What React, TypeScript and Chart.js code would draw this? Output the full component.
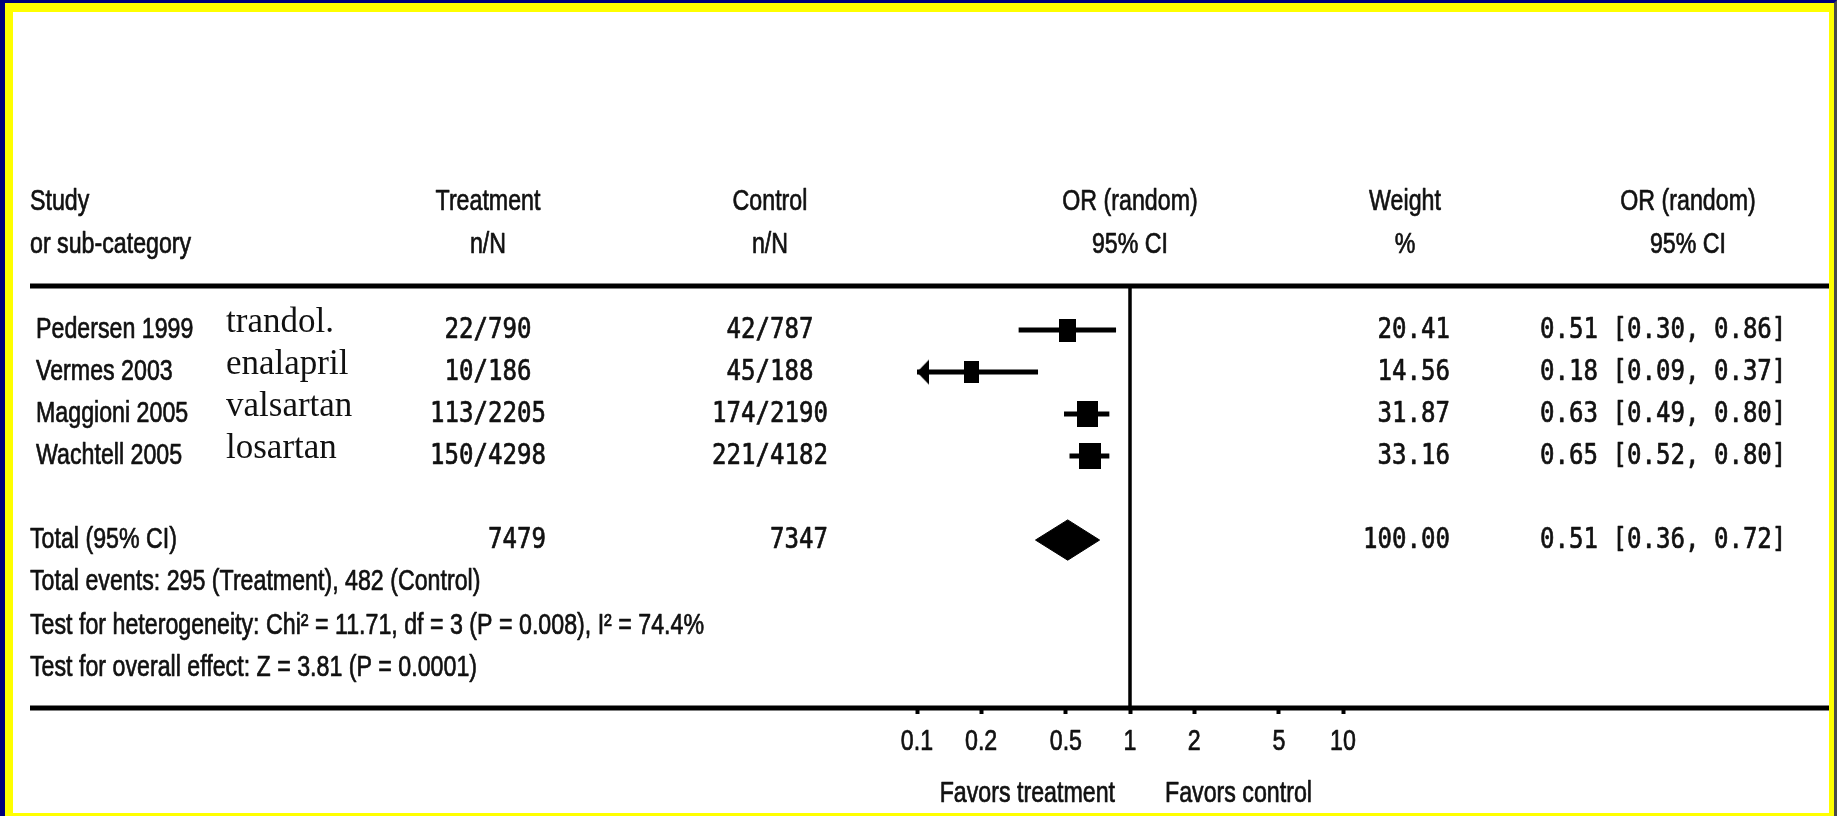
import { useEffect, useRef } from 'react';
import { Chart, registerables } from 'chart.js';

Chart.register(...registerables);

// ---- data ----
const STUDIES = ['Pedersen 1999', 'Vermes 2003', 'Maggioni 2005', 'Wachtell 2005'];
const DRUGS = ['trandol.', 'enalapril', 'valsartan', 'losartan'];
const TREAT_EVENTS = [22, 10, 113, 150];
const TREAT_TOTAL = [790, 186, 2205, 4298];
const CTRL_EVENTS = [42, 45, 174, 221];
const CTRL_TOTAL = [787, 188, 2190, 4182];
const WEIGHTS = [20.41, 14.56, 31.87, 33.16];
const OR_EST = [0.51, 0.18, 0.63, 0.65];
const CI_LOW = [0.3, 0.09, 0.49, 0.52];
const CI_HIGH = [0.86, 0.37, 0.8, 0.8];

const TOTAL_LABEL = 'Total (95% CI)';
const TOTAL_WEIGHT = 100.0;
const TOTAL_OR = 0.51;
const TOTAL_LOW = 0.36;
const TOTAL_HIGH = 0.72;

const HEADER_LINE1 = ['Study', 'Treatment', 'Control', 'OR (random)', 'Weight', 'OR (random)'];
const HEADER_LINE2 = ['or sub-category', 'n/N', 'n/N', '95% CI', '%', '95% CI'];
const FOOTNOTES = [
  'Total events: 295 (Treatment), 482 (Control)',
  'Test for heterogeneity: Chi\u00B2 = 11.71, df = 3 (P = 0.008), I\u00B2 = 74.4%',
  'Test for overall effect: Z = 3.81 (P = 0.0001)',
];
const X_TICKS = [0.1, 0.2, 0.5, 1, 2, 5, 10];
const FAVORS = ['Favors treatment', 'Favors control'];

// ---- layout ----
const CANVAS_W = 1816;
const CANVAS_H = 801;
const PLOT_MIN = 0.1;
const PLOT_MAX = 10;
const Y_MIN = -1.05;
const Y_MAX = 9;
const TOTAL_ROW = 5;
const HEADER_ROWS = [-3.05, -2.02];
const FOOTNOTE_ROWS = [6, 7.05, 8.05];
const DIAMOND_HALF = 0.48;

const COL = {
  study: 17,
  studyName: 23,
  drug: 213,
  treat: 475,
  ctrl: 757,
  weightHead: 1392,
  weightRight: 1437,
  orHead: 1675,
  orLeft: 1527,
};

const SANS = '29px "Liberation Sans", Arial, sans-serif';
const SANS_SX = 0.8;
const MONO = '29px "DejaVu Sans Mono", "Liberation Mono", monospace';
const MONO_SX = 0.83;
const SERIF = '35px "Liberation Serif", "Times New Roman", serif';
const INK = '#111';

type Align = 'left' | 'center' | 'right';

function textWidth(ctx: CanvasRenderingContext2D, text: string, font: string, sx: number) {
  ctx.save();
  ctx.font = font;
  const w = ctx.measureText(text).width * sx;
  ctx.restore();
  return w;
}

function drawText(
  ctx: CanvasRenderingContext2D,
  text: string,
  x: number,
  y: number,
  font: string,
  align: Align,
  sx: number,
  baseline: CanvasTextBaseline = 'middle',
  weight = 0.7
) {
  ctx.save();
  ctx.font = font;
  ctx.fillStyle = INK;
  ctx.strokeStyle = INK;
  ctx.lineWidth = weight;
  ctx.lineJoin = 'round';
  ctx.textBaseline = baseline;
  ctx.textAlign = 'left';
  const w = ctx.measureText(text).width * sx;
  const left = align === 'left' ? x : align === 'right' ? x - w : x - w / 2;
  ctx.translate(left, y);
  ctx.scale(sx, 1);
  ctx.fillText(text, 0, 0);
  if (weight > 0) ctx.strokeText(text, 0, 0);
  ctx.restore();
}

function boxImage(weight: number): HTMLCanvasElement {
  const s = 3.3 * Math.sqrt(weight) + 2.5;
  const w = Math.round(s);
  const h = Math.round(0.6 * s + 13);
  const c = document.createElement('canvas');
  c.width = w;
  c.height = h;
  const g = c.getContext('2d')!;
  g.fillStyle = '#000';
  g.fillRect(0, 0, w, h);
  return c;
}

// left-pointing arrowhead whose tip sits at the image centre
function arrowImage(): HTMLCanvasElement {
  const c = document.createElement('canvas');
  c.width = 26;
  c.height = 27;
  const g = c.getContext('2d')!;
  g.fillStyle = '#000';
  g.beginPath();
  g.moveTo(13, 13.5);
  g.lineTo(25, 1);
  g.lineTo(25, 26);
  g.closePath();
  g.fill();
  return c;
}

const fmt2 = (v: number) => v.toFixed(2);
const sum = (a: number[]) => a.reduce((p, c) => p + c, 0);

const tablePlugin = {
  id: 'forestTable',
  afterDraw(chart: any) {
    const { ctx, chartArea } = chart;
    const x = chart.scales.x;
    const y = chart.scales.y;
    const rowY = (r: number) => y.getPixelForValue(r);
    const x1 = x.getPixelForValue(1);

    // horizontal rules
    ctx.save();
    ctx.fillStyle = '#000';
    ctx.fillRect(COL.study, chartArea.top - 2.5, CANVAS_W - COL.study, 5);
    ctx.fillRect(COL.study, chartArea.bottom - 2.5, CANVAS_W - COL.study, 5);
    ctx.restore();

    // header
    const headX: [number, Align][] = [
      [COL.study, 'left'],
      [COL.treat, 'center'],
      [COL.ctrl, 'center'],
      [x1, 'center'],
      [COL.weightHead, 'center'],
      [COL.orHead, 'center'],
    ];
    [HEADER_LINE1, HEADER_LINE2].forEach((line, li) => {
      line.forEach((t, i) => {
        drawText(ctx, t, headX[i][0], rowY(HEADER_ROWS[li]), SANS, headX[i][1], SANS_SX);
      });
    });

    // study rows
    const treatCells = STUDIES.map((_, i) => `${TREAT_EVENTS[i]}/${TREAT_TOTAL[i]}`);
    const ctrlCells = STUDIES.map((_, i) => `${CTRL_EVENTS[i]}/${CTRL_TOTAL[i]}`);
    STUDIES.forEach((s, i) => {
      const ry = rowY(i);
      drawText(ctx, s, COL.studyName, ry, SANS, 'left', SANS_SX);
      drawText(ctx, DRUGS[i], COL.drug, ry + 2, SERIF, 'left', 1, 'alphabetic', 0);
      drawText(ctx, treatCells[i], COL.treat, ry, MONO, 'center', MONO_SX);
      drawText(ctx, ctrlCells[i], COL.ctrl, ry, MONO, 'center', MONO_SX);
      drawText(ctx, fmt2(WEIGHTS[i]), COL.weightRight, ry, MONO, 'right', MONO_SX);
      drawText(
        ctx,
        `${fmt2(OR_EST[i])} [${fmt2(CI_LOW[i])}, ${fmt2(CI_HIGH[i])}]`,
        COL.orLeft,
        ry,
        MONO,
        'left',
        MONO_SX
      );
    });

    // total row: participant totals sit flush with the right edge of the widest cell
    const colRight = (cells: string[], centre: number) =>
      centre + Math.max(...cells.map((c) => textWidth(ctx, c, MONO, MONO_SX))) / 2;
    const ty = rowY(TOTAL_ROW);
    drawText(ctx, TOTAL_LABEL, COL.study, ty, SANS, 'left', SANS_SX);
    drawText(ctx, String(sum(TREAT_TOTAL)), colRight(treatCells, COL.treat), ty, MONO, 'right', MONO_SX);
    drawText(ctx, String(sum(CTRL_TOTAL)), colRight(ctrlCells, COL.ctrl), ty, MONO, 'right', MONO_SX);
    drawText(ctx, fmt2(TOTAL_WEIGHT), COL.weightRight, ty, MONO, 'right', MONO_SX);
    drawText(
      ctx,
      `${fmt2(TOTAL_OR)} [${fmt2(TOTAL_LOW)}, ${fmt2(TOTAL_HIGH)}]`,
      COL.orLeft,
      ty,
      MONO,
      'left',
      MONO_SX
    );

    // footnotes
    FOOTNOTES.forEach((t, i) => {
      drawText(ctx, t, COL.study, rowY(FOOTNOTE_ROWS[i]), SANS, 'left', SANS_SX);
    });

    // axis tick labels
    x.ticks.forEach((tk: any) => {
      drawText(ctx, String(tk.value), x.getPixelForValue(tk.value), chartArea.bottom + 34, SANS, 'center', SANS_SX);
    });

    // direction labels
    drawText(ctx, FAVORS[0], x1 - 15, chartArea.bottom + 86, SANS, 'right', SANS_SX);
    drawText(ctx, FAVORS[1], x1 + 35, chartArea.bottom + 86, SANS, 'left', SANS_SX);
  },
};

export default function App() {
  const ref = useRef<HTMLCanvasElement | null>(null);

  useEffect(() => {
    document.body.style.margin = '0';
    const canvas = ref.current;
    if (!canvas) return;

    const arrow = arrowImage();

    const nullLine = {
      data: [
        { x: 1, y: Y_MIN },
        { x: 1, y: Y_MAX },
      ],
      showLine: true,
      borderColor: '#000',
      borderWidth: 3.5,
      pointRadius: 0,
      clip: false,
    };

    const ciLines = STUDIES.map((_, i) => {
      const clippedLow = CI_LOW[i] < PLOT_MIN;
      return {
        data: [
          { x: Math.max(CI_LOW[i], PLOT_MIN), y: i },
          { x: Math.min(CI_HIGH[i], PLOT_MAX), y: i },
        ],
        showLine: true,
        borderColor: '#000',
        borderWidth: 5,
        borderCapStyle: 'butt',
        pointRadius: [clippedLow ? 8 : 0, 0],
        pointStyle: [clippedLow ? arrow : 'circle', 'circle'],
        clip: false,
      };
    });

    const boxes = {
      data: OR_EST.map((v, i) => ({ x: v, y: i })),
      showLine: false,
      pointRadius: 8,
      pointStyle: WEIGHTS.map(boxImage),
      clip: false,
    };

    const diamond = {
      data: [
        { x: TOTAL_LOW, y: TOTAL_ROW },
        { x: TOTAL_OR, y: TOTAL_ROW - DIAMOND_HALF },
        { x: TOTAL_HIGH, y: TOTAL_ROW },
        { x: TOTAL_OR, y: TOTAL_ROW + DIAMOND_HALF },
        { x: TOTAL_LOW, y: TOTAL_ROW },
      ],
      showLine: true,
      borderColor: '#000',
      borderWidth: 1,
      backgroundColor: '#000',
      fill: 'shape',
      pointRadius: 0,
      clip: false,
    };

    const chart = new Chart(canvas, {
      type: 'scatter',
      data: { datasets: [nullLine, ...ciLines, boxes, diamond] as any },
      options: {
        responsive: false,
        animation: false,
        devicePixelRatio: 1,
        events: [],
        layout: { padding: { left: 904, right: 486, top: 274, bottom: 0 } },
        plugins: { legend: { display: false }, tooltip: { enabled: false } },
        scales: {
          x: {
            type: 'logarithmic',
            min: PLOT_MIN,
            max: PLOT_MAX,
            afterBuildTicks: (s: any) => {
              s.ticks = X_TICKS.map((v) => ({ value: v }));
            },
            afterFit: (s: any) => {
              s.height = 105;
            },
            ticks: { display: false },
            border: { display: false },
            grid: {
              display: true,
              drawOnChartArea: false,
              drawTicks: true,
              tickLength: 6,
              tickWidth: 4,
              tickColor: '#000',
            },
          },
          y: {
            type: 'linear',
            reverse: true,
            min: Y_MIN,
            max: Y_MAX,
            display: false,
          },
        },
      } as any,
      plugins: [tablePlugin],
    });

    return () => chart.destroy();
  }, []);

  return (
    <div
      style={{
        position: 'absolute',
        left: 0,
        top: 0,
        width: 1837,
        height: 816,
        boxSizing: 'border-box',
        borderLeft: '5px solid #00007a',
        borderTop: '3px solid #00007a',
        borderRight: '3px solid #4a4a4a',
      }}
    >
      <div
        style={{
          width: '100%',
          height: '100%',
          boxSizing: 'border-box',
          borderLeft: '8px solid #ffff00',
          borderTop: '9px solid #ffff00',
          borderRight: '5px solid #ffff00',
          borderBottom: '3px solid #ffff00',
          background: '#fff',
        }}
      >
        <canvas ref={ref} width={CANVAS_W} height={CANVAS_H} style={{ display: 'block' }} />
      </div>
    </div>
  );
}
